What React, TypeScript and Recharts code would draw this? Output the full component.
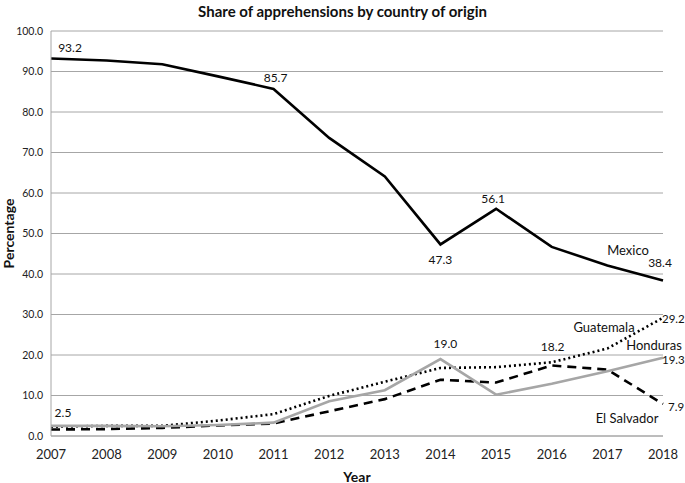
import React from 'react';
import { LineChart, Line, XAxis, YAxis, CartesianGrid, Label } from 'recharts';

const years = [2007, 2008, 2009, 2010, 2011, 2012, 2013, 2014, 2015, 2016, 2017, 2018];
const mexico = [93.2, 92.7, 91.8, 88.8, 85.7, 73.6, 64.1, 47.3, 56.1, 46.7, 42.1, 38.4];
const guatemala = [2.3, 2.5, 2.5, 3.8, 5.4, 9.9, 13.4, 16.8, 17.0, 18.2, 21.6, 29.2];
const honduras = [2.5, 2.5, 2.4, 2.7, 3.3, 8.6, 11.3, 19.0, 10.2, 12.9, 16.0, 19.3];
const elSalvador = [1.6, 1.7, 2.0, 2.6, 3.1, 6.1, 9.1, 13.9, 13.2, 17.4, 16.4, 7.9];
const yTicks = [0, 10, 20, 30, 40, 50, 60, 70, 80, 90, 100];

const data = years.map((year, i) => ({
  year,
  mexico: mexico[i],
  guatemala: guatemala[i],
  honduras: honduras[i],
  elSalvador: elSalvador[i],
}));

const FONT = 'Lato, "Open Sans", sans-serif';

type Note = { text: string; dx: number; dy: number; anchor?: 'start' | 'middle' | 'end'; size?: number };

// annotations keyed by point index, offsets are relative to the point
const notesFor = (notes: Record<number, Note[]>) => (props: any) => {
  const list = notes[props.index];
  if (!list) return null;
  return (
    <g key={`n-${props.index}`}>
      {list.map((n, k) => (
        <text
          key={k}
          x={props.x + n.dx}
          y={props.y + n.dy}
          textAnchor={n.anchor || 'middle'}
          dominantBaseline="central"
          fontSize={n.size || 12}
          fontFamily={FONT}
          fill="#111"
        >
          {n.text}
        </text>
      ))}
    </g>
  );
};

const mexicoNotes = {
  0: [{ text: '93.2', dx: 19, dy: -11 }],
  4: [{ text: '85.7', dx: 2, dy: -11 }],
  7: [{ text: '47.3', dx: 0, dy: 15 }],
  8: [{ text: '56.1', dx: -3, dy: -10 }],
  11: [
    { text: '38.4', dx: -3, dy: -18 },
    { text: 'Mexico', dx: -35, dy: -30, size: 13 },
  ],
};
const guatemalaNotes = {
  9: [{ text: '18.2', dx: 1, dy: -16 }],
  11: [
    { text: '29.2', dx: -1, dy: 1, anchor: 'start' as const, size: 11.5 },
    { text: 'Guatemala', dx: -59, dy: 9, size: 13 },
  ],
};
const hondurasNotes = {
  0: [{ text: '2.5', dx: 12, dy: -13 }],
  7: [{ text: '19.0', dx: 5, dy: -16 }],
  11: [
    { text: '19.3', dx: -1, dy: 2, anchor: 'start' as const, size: 11.5 },
    { text: 'Honduras', dx: -9, dy: -13, size: 13 },
  ],
};
const elSalvadorNotes = {
  11: [
    { text: '7.9', dx: 5, dy: 2, anchor: 'start' as const, size: 11.5 },
    { text: 'El Salvador', dx: -36, dy: 14, size: 13 },
  ],
};

export default function App() {
  return (
    <div style={{ position: 'fixed', left: 0, top: 0, width: 685, height: 483, background: '#fff' }}>
      <div
        style={{
          position: 'absolute',
          top: 2,
          left: 0,
          width: 685,
          textAlign: 'center',
          fontFamily: FONT,
          fontWeight: 700,
          fontSize: 15,
          color: '#111',
        }}
      >
        Share of apprehensions by country of origin
      </div>
      <LineChart width={685} height={483} data={data} margin={{ top: 31, right: 22, bottom: 0, left: 0 }}>
        <CartesianGrid vertical={false} stroke="#a6a6a6" />
        <XAxis
          dataKey="year"
          type="number"
          domain={[2007, 2018]}
          ticks={years}
          height={47}
          tickLine={false}
          axisLine={{ stroke: '#a6a6a6' }}
          tickMargin={8}
          tick={{ fontSize: 13, fill: '#222', fontFamily: FONT }}
        >
          <Label
            content={({ viewBox }: any) => (
              <text
                x={viewBox.x + viewBox.width / 2}
                y={viewBox.y + viewBox.height - 7}
                textAnchor="middle"
                dominantBaseline="central"
                fontSize={14}
                fontWeight={700}
                fontFamily={FONT}
                fill="#111"
              >
                Year
              </text>
            )}
          />
        </XAxis>
        <YAxis
          domain={[0, 100]}
          ticks={yTicks}
          width={51}
          tickLine={false}
          axisLine={{ stroke: '#a6a6a6' }}
          tickFormatter={(v: number) => v.toFixed(1)}
          tick={{ fontSize: 10.5, fill: '#222', fontFamily: FONT }}
        >
          <Label
            content={({ viewBox }: any) => (
              <text
                x={8}
                y={viewBox.y + viewBox.height / 2}
                transform={`rotate(-90, 8, ${viewBox.y + viewBox.height / 2})`}
                textAnchor="middle"
                dominantBaseline="central"
                fontSize={14}
                fontWeight={700}
                fontFamily={FONT}
                fill="#111"
              >
                Percentage
              </text>
            )}
          />
        </YAxis>
        <Line
          dataKey="elSalvador"
          stroke="#000"
          strokeWidth={2.6}
          strokeDasharray="9 6"
          dot={false}
          isAnimationActive={false}
          label={notesFor(elSalvadorNotes)}
        />
        <Line
          dataKey="guatemala"
          stroke="#000"
          strokeWidth={2.6}
          strokeDasharray="2 3"
          dot={false}
          isAnimationActive={false}
          label={notesFor(guatemalaNotes)}
        />
        <Line
          dataKey="honduras"
          stroke="#a6a6a6"
          strokeWidth={2.6}
          dot={false}
          isAnimationActive={false}
          label={notesFor(hondurasNotes)}
        />
        <Line
          dataKey="mexico"
          stroke="#000"
          strokeWidth={2.6}
          dot={false}
          isAnimationActive={false}
          label={notesFor(mexicoNotes)}
        />
      </LineChart>
    </div>
  );
}
